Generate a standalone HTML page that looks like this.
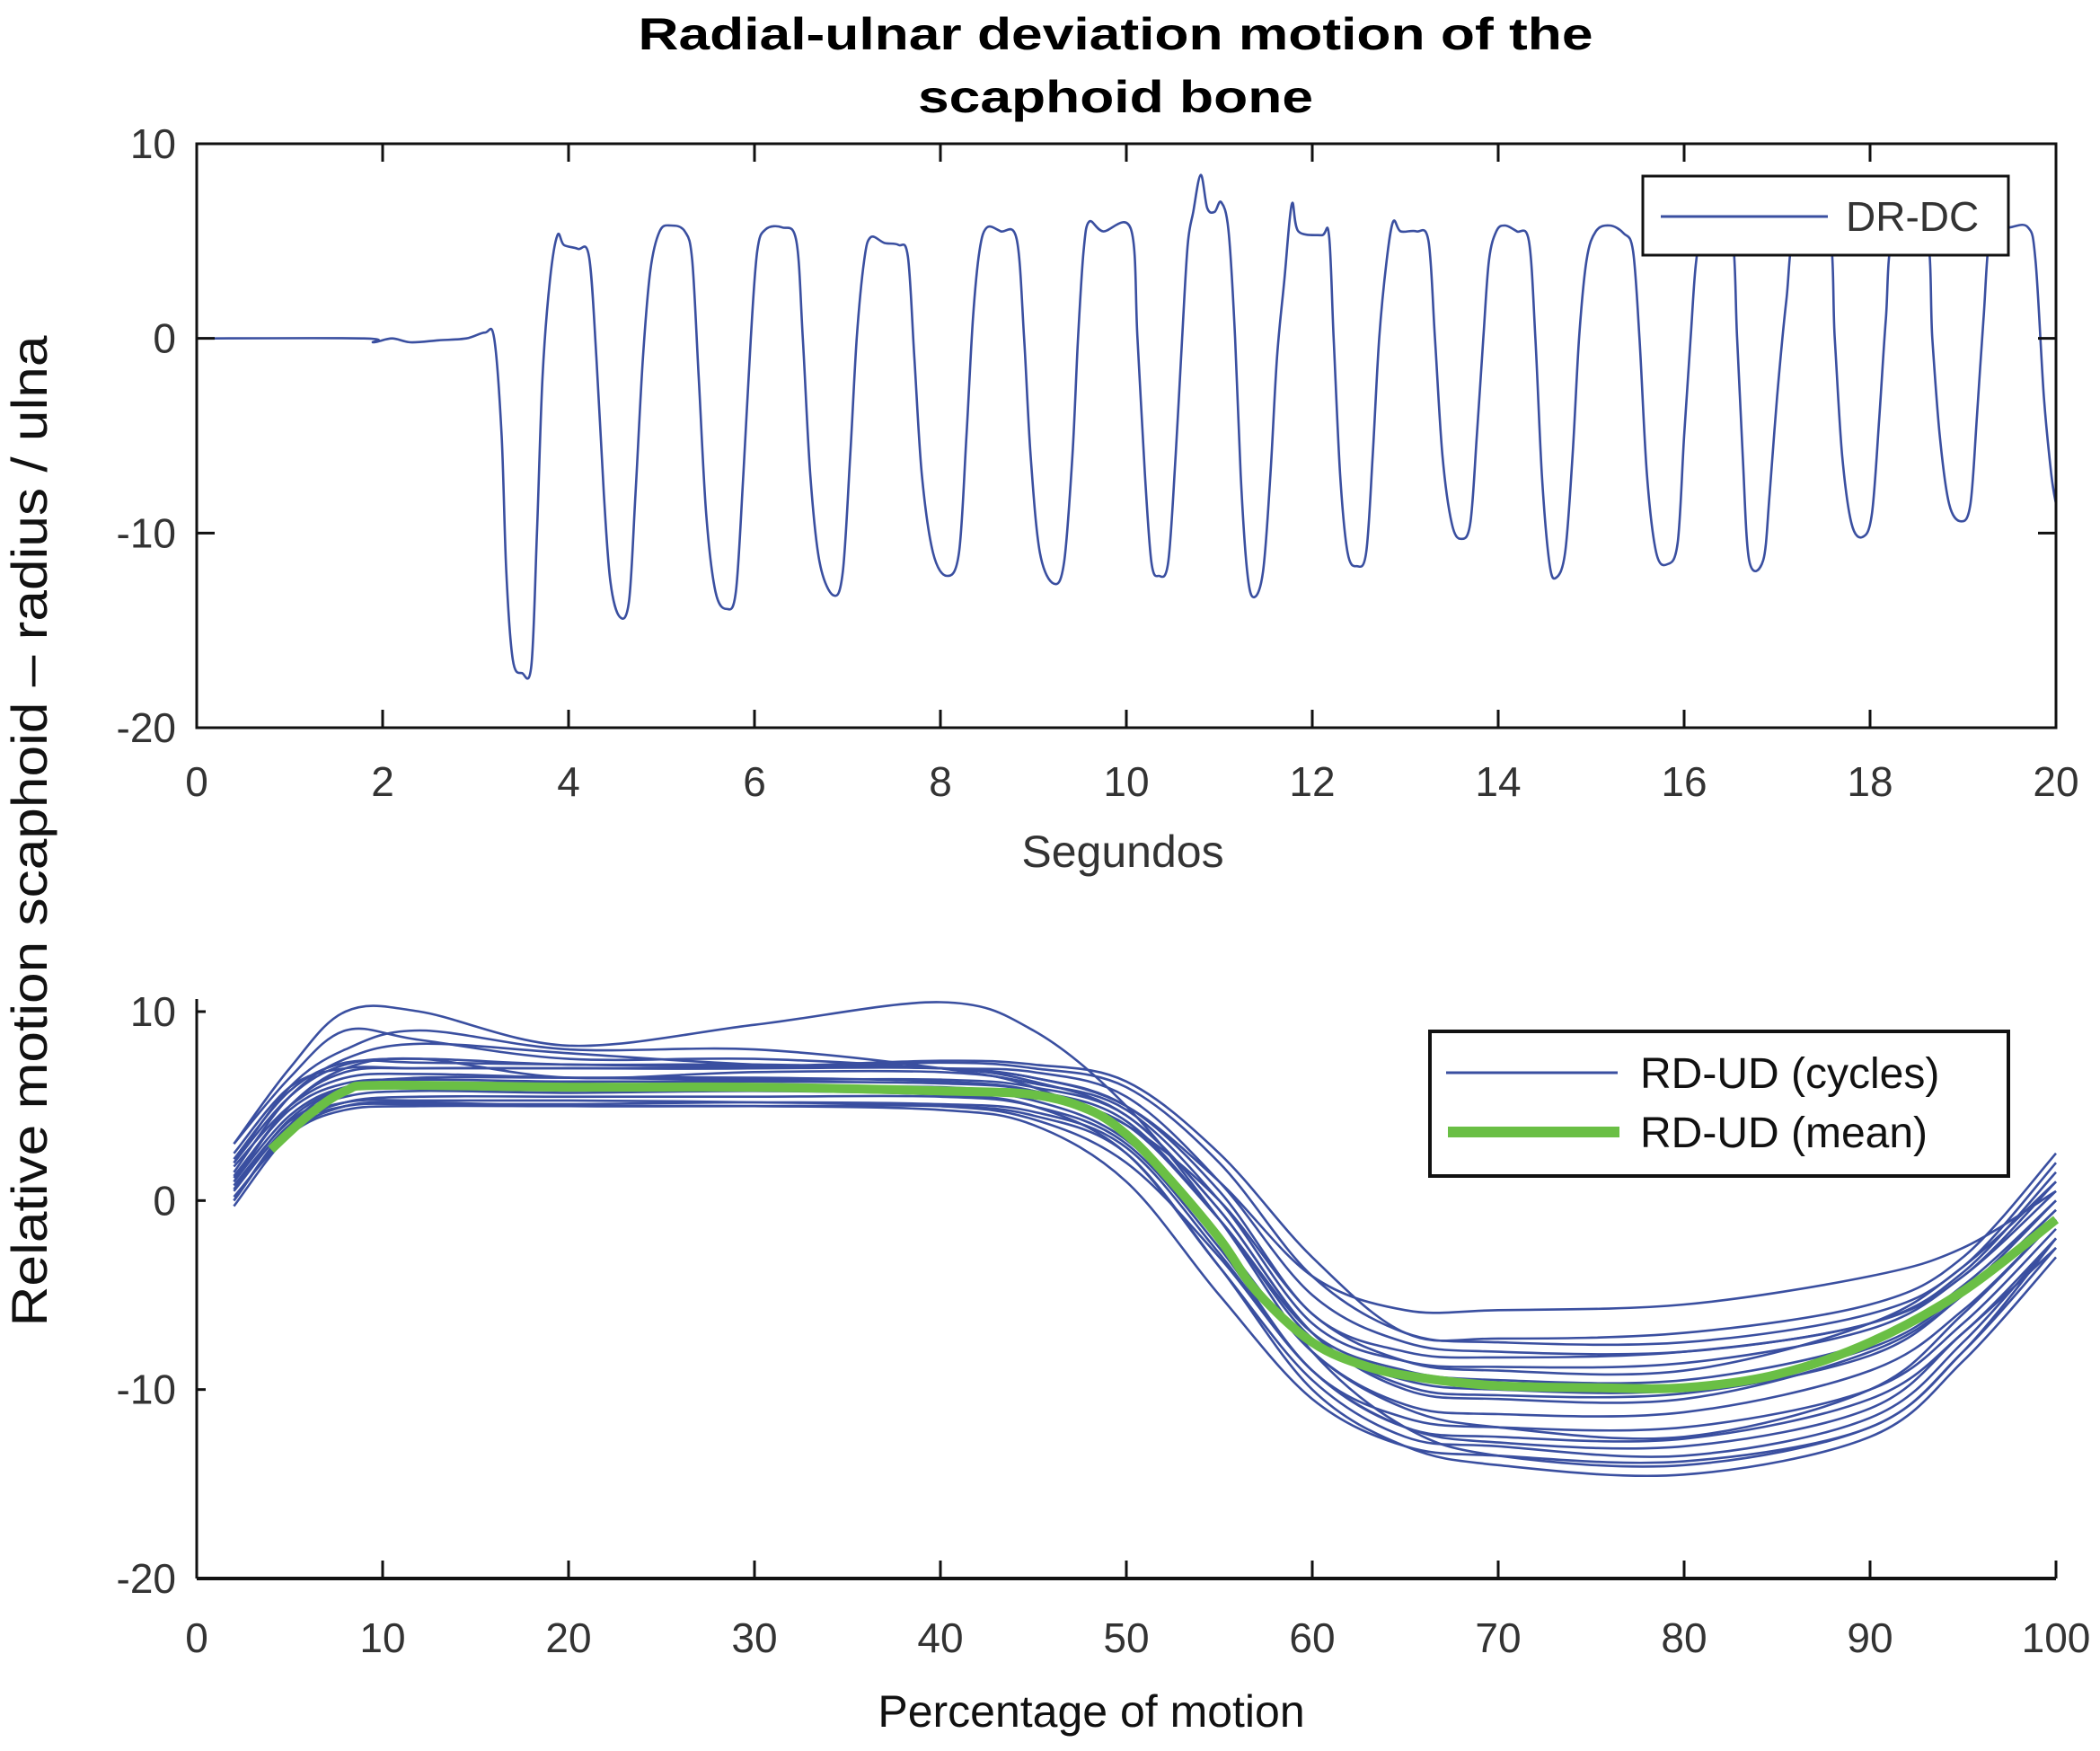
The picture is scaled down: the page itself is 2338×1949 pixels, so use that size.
<!DOCTYPE html>
<html><head><meta charset="utf-8"><style>
html,body{margin:0;padding:0;background:#fff;}
svg{display:block;font-family:"Liberation Sans",Arial,sans-serif;}
</style></head><body>
<svg id="fig" width="2338" height="1949" viewBox="0 0 2338 1949" xmlns="http://www.w3.org/2000/svg">
<text x="1242" y="55" text-anchor="middle" font-size="50" font-weight="bold" textLength="1063" lengthAdjust="spacingAndGlyphs">Radial-ulnar deviation motion of the</text>
<text x="1242" y="125" text-anchor="middle" font-size="50" font-weight="bold" textLength="440" lengthAdjust="spacingAndGlyphs">scaphoid bone</text>
<text transform="translate(52,925) rotate(-90)" text-anchor="middle" font-size="56" textLength="1103" lengthAdjust="spacingAndGlyphs" fill="#111">Relative motion scaphoid – radius / ulna</text>
<g id="topplot"></g>
<g id="botplot"></g>
</svg>
<script>
// ---- Top chart data ----
const topT = [0,1.8,1.9,2.1,2.3,2.6,2.9,3.1,3.2,3.28,3.33,3.4,3.5,3.6,3.66,3.72,3.8,3.88,3.95,4.1,4.22,4.3,4.38,4.45,4.55,4.65,4.72,4.8,4.88,4.98,5.1,5.25,5.33,5.4,5.48,5.58,5.7,5.8,5.88,5.96,6.03,6.12,6.3,6.45,6.52,6.6,6.7,6.85,6.95,7.03,7.1,7.18,7.25,7.4,7.55,7.65,7.72,7.8,7.92,8.07,8.2,8.28,8.35,8.42,8.5,8.65,8.82,8.9,8.97,9.07,9.22,9.33,9.42,9.48,9.54,9.6,9.75,10.05,10.12,10.2,10.27,10.35,10.45,10.53,10.6,10.66,10.72,10.8,10.87,10.95,11.02,11.1,11.17,11.23,11.3,11.37,11.47,11.55,11.62,11.7,11.78,11.85,12.1,12.18,12.23,12.3,12.38,12.48,12.58,12.65,12.72,12.8,12.87,12.95,13.12,13.25,13.32,13.4,13.5,13.6,13.7,13.77,13.84,13.9,13.98,14.07,14.2,14.33,14.4,14.47,14.55,14.62,14.72,14.8,14.87,14.95,15.05,15.2,15.35,15.45,15.52,15.6,15.7,15.82,15.93,16.0,16.07,16.13,16.22,16.5,16.57,16.63,16.7,16.85,16.92,17.0,17.1,17.2,17.55,17.62,17.7,17.8,17.92,18.02,18.1,18.17,18.25,18.6,18.67,18.75,18.85,18.98,19.08,19.15,19.22,19.3,19.5,19.7,19.78,19.87,19.95,20.0];
const topV = [0,0,-0.2,0,-0.2,-0.1,0,0.3,0,-5,-12,-16.5,-17.2,-16.8,-10,-2,3,5.3,4.8,4.6,4.2,-1,-8,-12.5,-14.3,-13.5,-8,-1,3.5,5.5,5.8,5.5,4,-2,-9,-13,-13.9,-13,-7,0,4.5,5.6,5.7,5,0,-7,-11.5,-13.2,-12,-6,0,4,5.2,4.9,4.8,4.2,-1,-7,-11,-12.2,-11,-5,1,4.5,5.7,5.5,5.1,0,-6,-11,-12.6,-11.5,-6,0,4.5,6,5.5,5.6,0,-7,-11.5,-12.2,-11.5,-6,0,4.8,6.5,8.4,6.7,6.5,7,5.5,0,-7,-12,-13.3,-12,-7,-1,3,6.9,5.5,5.3,5.3,0,-7,-11,-11.7,-11,-6,0,4,6,5.5,5.5,5,0,-6,-9.5,-10.3,-9.5,-5,0,4,5.5,5.8,5.5,5,0,-7,-11.5,-12.3,-11,-6,0,4,5.5,5.8,5.4,4.5,0,-7,-11,-11.6,-10.5,-5,0,4,5.7,5.6,0,-6,-11.4,-11.4,-8,-3,2,5.5,5.6,0,-6,-9.5,-10.2,-9,-4,1,5.2,5.5,0,-5,-8.5,-9.4,-8.5,-4,1,5.5,5.7,5.7,4,-3,-7,-8.5];
const topXTicks = [0,2,4,6,8,10,12,14,16,18,20];
const topYTicks = [10,0,-10,-20];
// ---- Bottom chart data ----
const botX = [2,5,8,12,20,30,40,45,50,55,60,65,70,80,90,95,100];
const cycles = [
 [0,4,6,6.5,6.5,6.5,6.3,5.8,4,0,-6,-8.5,-9,-9,-6.5,-3.5,1],
 [1,5,6.8,7,7,7,7,6.5,5,1,-4,-5.8,-5.8,-5.5,-4,-2.5,0.5],
 [2,6,8,9,8,8,7,6,3.5,-2,-8,-11,-12,-12.5,-10,-6,-1],
 [3,7,10,10,8.2,9.3,10.5,9,5,-1,-8,-12,-13.5,-14,-12,-8,-2],
 [1.5,5.5,7.5,8.3,7.8,7.2,7,6.3,4.5,-0.5,-7,-10,-10.5,-10.5,-8,-5,-0.5],
 [0.5,4,5.2,5.3,5.3,5.2,5,4.3,2,-3,-9,-12,-12.8,-13,-11,-7,-2.5],
 [-0.3,3.5,5,5.2,5,5,5,4.5,2.5,-3.5,-10,-13,-14,-14.5,-12.5,-8.5,-3],
 [2.5,6,7,7,7,7,7.3,7,6,2,-4,-7,-7.5,-7.5,-6,-3.5,2],
 [1,4.5,6,6.2,6.2,6,6,5.5,4,-1,-7,-9,-9.5,-9.5,-7.5,-4.5,0],
 [0,3.8,5.2,5.5,5.5,5.5,5.5,5,3,-2.5,-9,-11.5,-12,-12,-10,-6.5,-1.5],
 [1.2,5,7,7.5,6.5,6.8,6.8,6.2,4.8,0,-6.5,-8.5,-8.8,-8.6,-6.8,-4,0.5],
 [0.8,4.2,5.5,5.8,5.7,5.8,5.6,5,2.5,-3.5,-9.5,-12.5,-13,-13.5,-11.5,-7.5,-2],
 [3,6.5,9,8.5,7.5,7.5,7,6.5,5,0.5,-6,-8,-8.3,-8,-6.5,-3.8,1.5],
 [1.8,5,6.5,6.7,6.5,6.4,6.4,6,4.5,-0.5,-7,-9.8,-10.3,-10.2,-8.2,-5,-0.5],
 [0.2,3.5,4.8,5,5,5,4.8,4,1,-5,-10.5,-13,-13.5,-13.8,-12,-8,-2.5],
 [2,5.5,7.2,7.5,7.2,7.2,7,6.8,5.5,1,-5,-7.5,-8,-8,-6.5,-4,1],
 [0.6,4.3,5.9,6,6,5.9,5.8,5.3,3.2,-2,-8,-10.8,-11.3,-11.2,-9,-5.8,-1],
 [1.3,4.8,6.2,6.4,6.3,6.3,6.2,5.8,4.2,-1,-7.3,-9.5,-10,-10,-7.8,-4.8,0],
 [0,3.8,5,5.1,5.1,5.2,5.1,4.7,2.8,-2.8,-9,-12,-12.5,-12.6,-10.5,-7,-2],
 [2.2,5.8,7.3,7.3,7.2,7.1,7.4,7.2,6.3,2.5,-3,-7,-7.3,-7,-5.5,-3,2.5]
];
const meanX = [4,6,8,10,20,30,40,45,48,50,52,55,57,60,63,66,70,75,80,85,90,95,100];
const meanV = [2.7,4.5,5.8,6.1,6.0,6.0,5.8,5.6,4.8,3.5,1.5,-2,-4.8,-7.5,-8.8,-9.4,-9.8,-9.9,-9.9,-9.2,-7.5,-4.8,-1.0];
const botXTicks = [0,10,20,30,40,50,60,70,80,90,100];
const botYTicks = [10,0,-10,-20];

const NS='http://www.w3.org/2000/svg';
function mk(tag,attrs,parent){const e=document.createElementNS(NS,tag);for(const k in attrs)e.setAttribute(k,attrs[k]);parent.appendChild(e);return e;}
const BLUE='#3a4fa0';
const L=219,R=2289;
const tx=t=>L+(t-0)/20*(R-L);
const ty=v=>160+(10-v)/30*(810-160);
const bx=p=>L+p/100*(R-L);
const by=v=>1126+(10-v)/30*(1757-1126);

function smoothPath(pts){
  let d='M'+pts[0][0].toFixed(1)+','+pts[0][1].toFixed(1);
  for(let i=0;i<pts.length-1;i++){
    const p0=pts[Math.max(0,i-1)],p1=pts[i],p2=pts[i+1],p3=pts[Math.min(pts.length-1,i+2)];
    const c1x=p1[0]+(p2[0]-p0[0])/6,c1y=p1[1]+(p2[1]-p0[1])/6;
    const c2x=p2[0]-(p3[0]-p1[0])/6,c2y=p2[1]-(p3[1]-p1[1])/6;
    d+=' C'+c1x.toFixed(1)+','+c1y.toFixed(1)+' '+c2x.toFixed(1)+','+c2y.toFixed(1)+' '+p2[0].toFixed(1)+','+p2[1].toFixed(1);
  }
  return d;
}

// ---- TOP ----
const topG=document.getElementById('topplot');
const nTop=Math.min(topT.length,topV.length);
const topPts=[];
for(let i=0;i<nTop;i++)topPts.push([tx(topT[i]),ty(topV[i])]);
const tp=mk('path',{d:smoothPath(topPts),fill:'none',stroke:BLUE,'stroke-width':2.6},topG);


const tbox=mk('rect',{x:L,y:160,width:R-L,height:650,fill:'none',stroke:'#111','stroke-width':3},topG);


topXTicks.forEach(t=>{
  const x=tx(t);
  mk('line',{x1:x,y1:810,x2:x,y2:790,stroke:'#111','stroke-width':3},topG);
  mk('line',{x1:x,y1:160,x2:x,y2:180,stroke:'#111','stroke-width':3},topG);
  const lb=mk('text',{x:x,y:886,'text-anchor':'middle','font-size':46,fill:'#333'},topG);
  lb.textContent=t;
  
  
});
topYTicks.forEach(v=>{
  const y=ty(v);
  mk('line',{x1:L,y1:y,x2:L+20,y2:y,stroke:'#111','stroke-width':3},topG);
  mk('line',{x1:R,y1:y,x2:R-20,y2:y,stroke:'#111','stroke-width':3},topG);
  const lb=mk('text',{x:196,y:y+16,'text-anchor':'end','font-size':46,fill:'#333'},topG);
  lb.textContent=v;
  
  
});
const tl=mk('text',{x:1250,y:965,'text-anchor':'middle','font-size':50,fill:'#333'},topG);
tl.textContent='Segundos';


const lg=mk('g',{},topG);


mk('rect',{x:1829,y:196,width:407,height:88,fill:'#fff',stroke:'#111','stroke-width':3},lg);
mk('line',{x1:1849,y1:241,x2:2035,y2:241,stroke:BLUE,'stroke-width':3},lg);
const lgt=mk('text',{x:2055,y:257,'font-size':46,fill:'#333'},lg);
lgt.textContent='DR-DC';

// ---- BOTTOM ----
const botG=document.getElementById('botplot');
cycles.forEach(c=>{
  const p=mk('path',{d:smoothPath(botX.map((x,i)=>[bx(x),by(c[i])])),fill:'none',stroke:BLUE,'stroke-width':2.6},botG);
  
  
});
const mp=mk('path',{d:smoothPath(meanX.map((x,i)=>[bx(x),by(meanV[i])])),fill:'none',stroke:'#6abf45','stroke-width':10,'stroke-linejoin':'round'},botG);


mk('line',{x1:L,y1:1112,x2:L,y2:1757,stroke:'#111','stroke-width':3},botG);
mk('line',{x1:L,y1:1757,x2:R,y2:1757,stroke:'#111','stroke-width':4},botG);
botXTicks.forEach(t=>{
  const x=bx(t);
  mk('line',{x1:x,y1:1757,x2:x,y2:1737,stroke:'#111','stroke-width':3},botG);
  const lb=mk('text',{x:x,y:1839,'text-anchor':'middle','font-size':46,fill:'#333'},botG);
  lb.textContent=t;
  
  
});
botYTicks.forEach(v=>{
  const y=by(v);
  mk('line',{x1:L,y1:y,x2:L+10,y2:y,stroke:'#111','stroke-width':3},botG);
  const lb=mk('text',{x:196,y:y+16,'text-anchor':'end','font-size':46,fill:'#333'},botG);
  lb.textContent=v;
  
  
});
const bl=mk('text',{x:1215,y:1922,'text-anchor':'middle','font-size':50,fill:'#111'},botG);
bl.textContent='Percentage of motion';


const lg2=mk('g',{},botG);


mk('rect',{x:1592,y:1148,width:644,height:161,fill:'#fff',stroke:'#111','stroke-width':4},lg2);
mk('line',{x1:1610,y1:1194,x2:1801,y2:1194,stroke:BLUE,'stroke-width':3},lg2);
mk('line',{x1:1612,y1:1260,x2:1803,y2:1260,stroke:'#6abf45','stroke-width':12},lg2);
const l1=mk('text',{x:1826,y:1211,'font-size':48,fill:'#111'},lg2);
l1.textContent='RD-UD (cycles)';
const l2=mk('text',{x:1826,y:1277,'font-size':48,fill:'#111'},lg2);
l2.textContent='RD-UD (mean)';
</script>
</body></html>
